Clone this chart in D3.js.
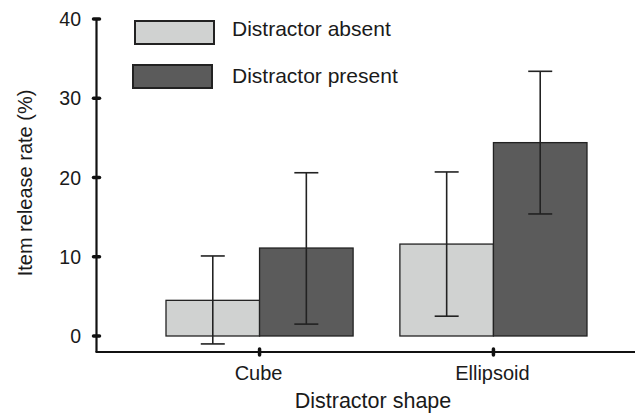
<!DOCTYPE html>
<html>
<head>
<script src="https://d3js.org/d3.v7.min.js"></script>
<style>
body { margin: 0; background: #fff; }
svg text { font-family: "Liberation Sans", Arial, sans-serif; fill: #1a1a1a; }
</style>
</head>
<body>
<svg id="chart" width="638" height="414"></svg>
<script>
// data
var shapes = ["Cube", "Ellipsoid"];
var conditions = ["Distractor absent", "Distractor present"];
var absentMean = [4.5, 11.6];
var absentLow = [-1.0, 2.5];
var absentHigh = [10.1, 20.7];
var presentMean = [11.1, 24.4];
var presentLow = [1.5, 15.4];
var presentHigh = [20.6, 33.4];
var yTicks = [0, 10, 20, 30, 40];
var fills = ["#d0d2d1", "#5b5b5b"];

var svg = d3.select("#chart");

var y = d3.scaleLinear().domain([0, 40]).range([336, 19]);
var x = d3.scaleBand().domain(shapes).range([166, 587]).paddingInner(0.2).paddingOuter(0);
var sub = d3.scaleBand().domain(conditions).range([0, x.bandwidth()]);

var rows = [];
shapes.forEach(function(s, i) {
	rows.push({shape: s, cond: conditions[0], mean: absentMean[i], lo: absentLow[i], hi: absentHigh[i]});
	rows.push({shape: s, cond: conditions[1], mean: presentMean[i], lo: presentLow[i], hi: presentHigh[i]});
});

// bars
svg.selectAll("rect.bar").data(rows).enter().append("rect")
	.attr("class", "bar")
	.attr("x", function(d) { return x(d.shape) + sub(d.cond); })
	.attr("width", sub.bandwidth())
	.attr("y", function(d) { return y(d.mean); })
	.attr("height", function(d) { return y(0) - y(d.mean); })
	.attr("fill", function(d) { return fills[conditions.indexOf(d.cond)]; })
	.attr("stroke", "#222")
	.attr("stroke-width", 1.3);

// error bars
var eb = svg.selectAll("g.err").data(rows).enter().append("g")
	.attr("class", "err")
	.attr("stroke", "#222")
	.attr("stroke-width", 1.6);
function cx(d) { return x(d.shape) + sub(d.cond) + sub.bandwidth() / 2; }
eb.append("line")
	.attr("x1", cx).attr("x2", cx)
	.attr("y1", function(d) { return y(d.lo); })
	.attr("y2", function(d) { return y(d.hi); });
eb.append("line")
	.attr("x1", function(d) { return cx(d) - 12; }).attr("x2", function(d) { return cx(d) + 12; })
	.attr("y1", function(d) { return y(d.hi); }).attr("y2", function(d) { return y(d.hi); });
eb.append("line")
	.attr("x1", function(d) { return cx(d) - 12; }).attr("x2", function(d) { return cx(d) + 12; })
	.attr("y1", function(d) { return y(d.lo); }).attr("y2", function(d) { return y(d.lo); });

// y axis
var yAxis = svg.append("g");
yAxis.append("line")
	.attr("x1", 96.5).attr("x2", 96.5)
	.attr("y1", y(40)).attr("y2", 352)
	.attr("stroke", "#111").attr("stroke-width", 2.2);
yAxis.selectAll("line.tk").data(yTicks).enter().append("line")
	.attr("class", "tk")
	.attr("x1", 93.5).attr("x2", 99.5)
	.attr("y1", function(d) { return y(d); }).attr("y2", function(d) { return y(d); })
	.attr("stroke", "#111").attr("stroke-width", 3.5).attr("stroke-linecap", "round");
yAxis.selectAll("text").data(yTicks).enter().append("text")
	.attr("x", 81)
	.attr("y", function(d) { return y(d) + 7; })
	.attr("text-anchor", "end")
	.attr("font-size", 19.5)
	.text(function(d) { return d; });

// x axis
var xAxis = svg.append("g");
xAxis.append("line")
	.attr("x1", 95.5).attr("x2", 635)
	.attr("y1", 352).attr("y2", 352)
	.attr("stroke", "#111").attr("stroke-width", 2.2);
xAxis.selectAll("line.tk").data(shapes).enter().append("line")
	.attr("class", "tk")
	.attr("x1", function(d) { return x(d) + x.bandwidth() / 2; })
	.attr("x2", function(d) { return x(d) + x.bandwidth() / 2; })
	.attr("y1", 349).attr("y2", 355)
	.attr("stroke", "#111").attr("stroke-width", 3.5).attr("stroke-linecap", "round");
xAxis.selectAll("text").data(shapes).enter().append("text")
	.attr("x", function(d) { return x(d) + x.bandwidth() / 2 - 1; })
	.attr("y", 380)
	.attr("text-anchor", "middle")
	.attr("font-size", 20)
	.text(function(d) { return d; });

// titles
svg.append("text")
	.attr("x", 373).attr("y", 408)
	.attr("text-anchor", "middle")
	.attr("font-size", 21.5)
	.text("Distractor shape");
svg.append("text")
	.attr("transform", "translate(32,183) rotate(-90)")
	.attr("text-anchor", "middle")
	.attr("font-size", 20)
	.text("Item release rate (%)");

// legend
var leg = svg.selectAll("g.leg").data(conditions).enter().append("g")
	.attr("class", "leg")
	.attr("transform", function(d, i) { return "translate(" + (135 - i * 2) + "," + (21 + i * 44) + ")"; });
leg.append("rect")
	.attr("width", 79).attr("height", 23)
	.attr("fill", function(d, i) { return fills[i]; })
	.attr("stroke", "#222").attr("stroke-width", 2);
leg.append("text")
	.attr("x", function(d, i) { return 97 + i * 2; })
	.attr("y", function(d, i) { return 15 + i * 3; })
	.attr("font-size", 21)
	.text(function(d) { return d; });
</script>
</body>
</html>
